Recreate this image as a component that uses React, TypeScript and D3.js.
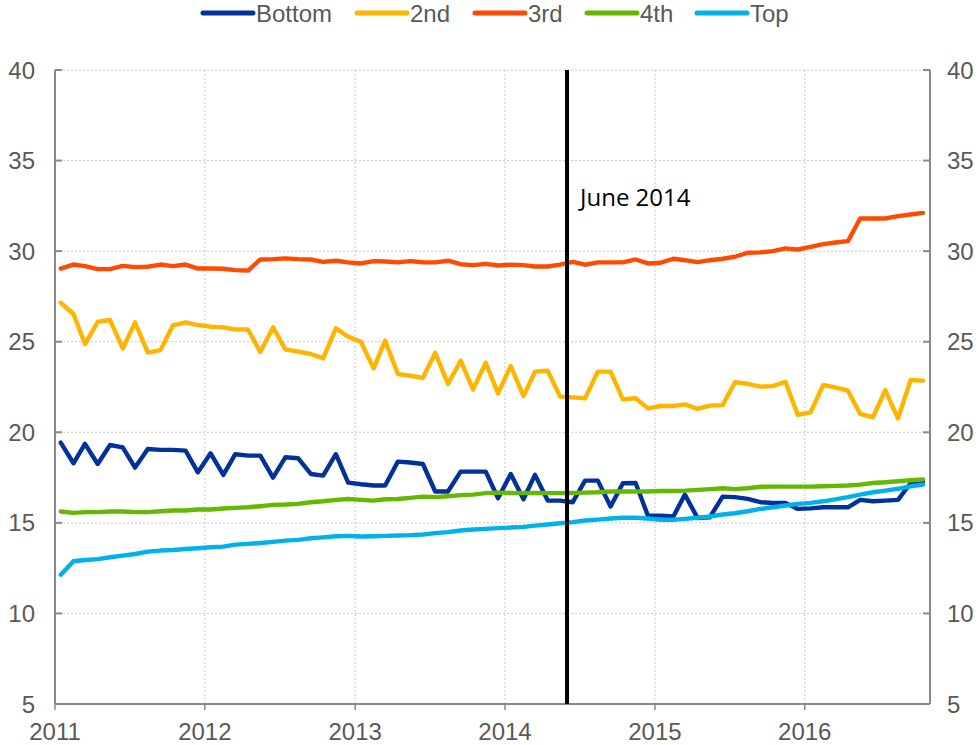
import React from "react";
import * as d3 from "d3";

const startYear = 2011;
const monthCount = 70;

const bottomValues = [19.43, 18.29, 19.36, 18.25, 19.3, 19.17, 18.05, 19.08, 19.03, 19.03, 18.99, 17.79, 18.84, 17.65, 18.79, 18.71, 18.71, 17.5, 18.62, 18.57, 17.7, 17.61, 18.79, 17.22, 17.13, 17.06, 17.06, 18.38, 18.33, 18.25, 16.73, 16.73, 17.83, 17.83, 17.83, 16.36, 17.7, 16.3, 17.65, 16.23, 16.23, 16.14, 17.33, 17.33, 15.9, 17.19, 17.2, 15.4, 15.4, 15.35, 16.56, 15.26, 15.31, 16.45, 16.42, 16.32, 16.14, 16.1, 16.1, 15.77, 15.8, 15.86, 15.86, 15.86, 16.27, 16.19, 16.23, 16.27, 17.2, 17.27];

const secondValues = [27.15, 26.53, 24.87, 26.1, 26.2, 24.63, 26.07, 24.4, 24.54, 25.9, 26.07, 25.92, 25.83, 25.79, 25.68, 25.68, 24.43, 25.79, 24.58, 24.45, 24.32, 24.08, 25.74, 25.28, 25.0, 23.53, 25.06, 23.22, 23.12, 23.0, 24.39, 22.67, 23.95, 22.37, 23.84, 22.15, 23.66, 22.0, 23.35, 23.4, 21.97, 21.93, 21.88, 23.35, 23.35, 21.82, 21.88, 21.32, 21.45, 21.45, 21.54, 21.29, 21.47, 21.5, 22.76, 22.67, 22.52, 22.55, 22.79, 20.96, 21.1, 22.61, 22.48, 22.3, 21.01, 20.83, 22.33, 20.77, 22.89, 22.85];

const thirdValues = [29.04, 29.26, 29.17, 29.01, 29.01, 29.19, 29.12, 29.14, 29.26, 29.17, 29.26, 29.04, 29.04, 29.03, 28.95, 28.93, 29.54, 29.56, 29.6, 29.56, 29.54, 29.41, 29.47, 29.38, 29.32, 29.45, 29.43, 29.38, 29.45, 29.39, 29.38, 29.47, 29.28, 29.23, 29.3, 29.21, 29.25, 29.23, 29.15, 29.15, 29.26, 29.41, 29.25, 29.38, 29.38, 29.38, 29.54, 29.32, 29.36, 29.58, 29.5, 29.39, 29.5, 29.58, 29.69, 29.91, 29.93, 30.0, 30.15, 30.09, 30.24, 30.39, 30.48, 30.55, 31.8, 31.8, 31.8, 31.93, 32.02, 32.11];

const fourthValues = [15.63, 15.55, 15.59, 15.59, 15.63, 15.63, 15.59, 15.59, 15.64, 15.68, 15.68, 15.74, 15.74, 15.79, 15.83, 15.86, 15.92, 15.99, 16.01, 16.05, 16.14, 16.19, 16.27, 16.32, 16.27, 16.23, 16.3, 16.32, 16.38, 16.45, 16.42, 16.47, 16.53, 16.56, 16.64, 16.67, 16.65, 16.64, 16.65, 16.64, 16.64, 16.65, 16.67, 16.69, 16.73, 16.73, 16.73, 16.73, 16.76, 16.76, 16.78, 16.82, 16.86, 16.91, 16.86, 16.91, 16.99, 17.0, 17.0, 17.0, 17.0, 17.02, 17.04, 17.06, 17.11, 17.2, 17.24, 17.3, 17.35, 17.39];

const topValues = [12.14, 12.88, 12.95, 13.0, 13.1, 13.19, 13.28, 13.41, 13.47, 13.5, 13.56, 13.6, 13.65, 13.69, 13.8, 13.84, 13.89, 13.95, 14.02, 14.06, 14.15, 14.2, 14.26, 14.28, 14.25, 14.26, 14.28, 14.3, 14.32, 14.36, 14.43, 14.49, 14.58, 14.63, 14.67, 14.71, 14.74, 14.78, 14.85, 14.91, 14.98, 15.04, 15.13, 15.18, 15.24, 15.28, 15.28, 15.24, 15.17, 15.17, 15.22, 15.28, 15.35, 15.46, 15.53, 15.64, 15.77, 15.86, 15.96, 16.05, 16.1, 16.19, 16.3, 16.42, 16.56, 16.69, 16.78, 16.88, 17.02, 17.11];

const seriesNames = ["Bottom", "2nd", "3rd", "4th", "Top"];
const seriesColors = ["#003299", "#FFB400", "#FF4B00", "#65B800", "#00B1EA"];
const seriesValues = [bottomValues, secondValues, thirdValues, fourthValues, topValues];

const yTicks = [5, 10, 15, 20, 25, 30, 35, 40];
const xTickYears = [2011, 2012, 2013, 2014, 2015, 2016];
const markerLabel = "June 2014";
const markerDate = new Date(2014, 5, 1);

const W = 980;
const H = 745;
const plotLeft = 55;
const plotRight = 930;
const plotTop = 70;
const plotBottom = 704;

export default function App() {
  const dates = d3.range(monthCount).map((i) => new Date(startYear, i, 15));
  const x = d3
    .scaleTime()
    .domain([new Date(2011, 0, 1), new Date(2016, 10, 1)])
    .range([plotLeft, plotRight]);
  const y = d3.scaleLinear().domain([5, 40]).range([plotBottom, plotTop]);

  const line = d3
    .line<number>()
    .x((_, i) => x(dates[i]))
    .y((d) => y(d));

  const font = "'Liberation Sans', Arial, sans-serif";
  const axisColor = "#898989";
  const labelColor = "#595959";

  const legendStarts = [203, 357, 475, 587, 697];

  return (
    <svg
      width={W}
      height={H}
      style={{ position: "absolute", left: 0, top: 0, background: "#fff" }}
      fontFamily={font}
    >
      {/* gridlines */}
      {yTicks.map((t) => (
        <line
          key={"gy" + t}
          x1={plotLeft}
          x2={plotRight}
          y1={y(t)}
          y2={y(t)}
          stroke="#c8c8c8"
          strokeWidth={1}
          strokeDasharray="2,2"
        />
      ))}
      {xTickYears.map((yr) => (
        <line
          key={"gx" + yr}
          x1={x(new Date(yr, 0, 1))}
          x2={x(new Date(yr, 0, 1))}
          y1={plotTop}
          y2={plotBottom}
          stroke="#c8c8c8"
          strokeWidth={1}
          strokeDasharray="2,2"
        />
      ))}

      {/* axes */}
      <line x1={plotLeft} x2={plotLeft} y1={plotTop} y2={plotBottom} stroke={axisColor} strokeWidth={2} />
      <line x1={plotRight} x2={plotRight} y1={plotTop} y2={plotBottom} stroke={axisColor} strokeWidth={2} />
      <line x1={plotLeft} x2={plotRight} y1={plotBottom} y2={plotBottom} stroke={axisColor} strokeWidth={2} />
      {yTicks.map((t) => (
        <g key={"ty" + t}>
          <line x1={plotLeft} x2={plotLeft + 7} y1={y(t)} y2={y(t)} stroke={axisColor} strokeWidth={2} />
          <line x1={plotRight - 7} x2={plotRight} y1={y(t)} y2={y(t)} stroke={axisColor} strokeWidth={2} />
          <text x={35} y={y(t)} dy="0.36em" textAnchor="end" fontSize={24} fill={labelColor}>
            {t}
          </text>
          <text x={947} y={y(t)} dy="0.36em" textAnchor="start" fontSize={24} fill={labelColor}>
            {t}
          </text>
        </g>
      ))}
      {xTickYears.map((yr) => (
        <g key={"tx" + yr}>
          <line
            x1={x(new Date(yr, 0, 1))}
            x2={x(new Date(yr, 0, 1))}
            y1={plotBottom}
            y2={plotBottom + 6}
            stroke={axisColor}
            strokeWidth={1.5}
          />
          <text x={x(new Date(yr, 0, 1))} y={740} textAnchor="middle" fontSize={24} fill={labelColor}>
            {yr}
          </text>
        </g>
      ))}

      {/* series */}
      {seriesValues.map((vals, k) => (
        <path
          key={seriesNames[k]}
          d={line(vals) || ""}
          fill="none"
          stroke={seriesColors[k]}
          strokeWidth={4.4}
          strokeLinejoin="round"
          strokeLinecap="round"
        />
      ))}

      {/* June 2014 marker */}
      <line
        x1={x(markerDate)}
        x2={x(markerDate)}
        y1={plotTop}
        y2={plotBottom}
        stroke="#000"
        strokeWidth={4}
      />
      <text x={580} y={206} fontSize={24} fill="#000" fontFamily="'Open Sans', sans-serif">
        {markerLabel}
      </text>

      {/* legend */}
      {seriesNames.map((name, k) => (
        <g key={"lg" + name}>
          <line
            x1={legendStarts[k]}
            x2={legendStarts[k] + 50}
            y1={13}
            y2={13}
            stroke={seriesColors[k]}
            strokeWidth={5}
            strokeLinecap="round"
          />
          <text x={legendStarts[k] + 53} y={21.5} fontSize={24} fill={labelColor}>
            {name}
          </text>
        </g>
      ))}
    </svg>
  );
}
